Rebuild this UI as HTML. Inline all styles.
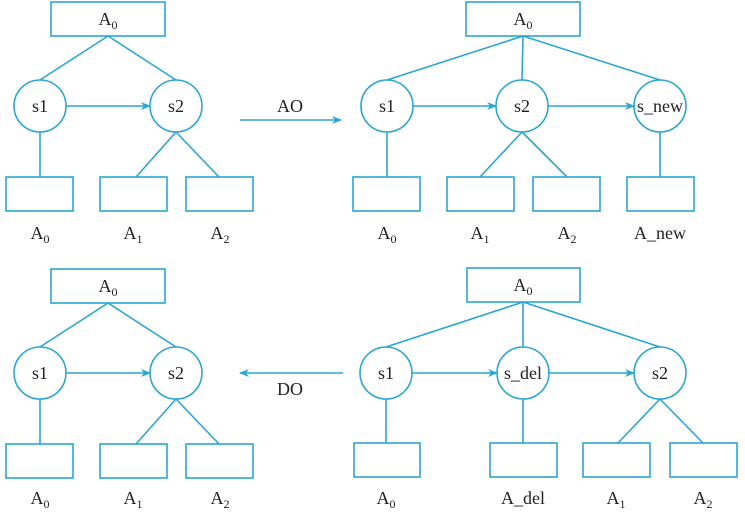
<!DOCTYPE html>
<html><head><style>html,body{margin:0;padding:0;background:#fff}</style></head><body>
<svg width="745" height="508" viewBox="0 0 745 508" xmlns="http://www.w3.org/2000/svg" font-family="Liberation Serif, serif" font-size="18" fill="#222">
<defs><marker id="ar" markerWidth="10" markerHeight="8" refX="9" refY="4" orient="auto" markerUnits="userSpaceOnUse"><path d="M0,0 L10,4 L0,8 L3,4 z" fill="#2aa6d2"/></marker></defs>
<g stroke="#2aa6d2" stroke-width="1.6" fill="none">
<!-- top-left -->
<rect x="51" y="2" width="114" height="34"/>
<line x1="108" y1="36" x2="40" y2="80"/><line x1="108" y1="36" x2="176" y2="80"/>
<circle cx="40" cy="106" r="26"/><circle cx="176" cy="106" r="26"/>
<line x1="66" y1="106" x2="150" y2="106" marker-end="url(#ar)"/>
<line x1="40" y1="132" x2="40" y2="177"/>
<line x1="176" y1="132" x2="136" y2="177"/><line x1="176" y1="132" x2="219" y2="177"/>
<rect x="6" y="177" width="67" height="34"/><rect x="100" y="177" width="67" height="34"/><rect x="186" y="177" width="67" height="34"/>
<line x1="240" y1="120" x2="341" y2="120" marker-end="url(#ar)"/>
<!-- top-right -->
<rect x="466" y="2" width="114" height="34"/>
<line x1="523" y1="36" x2="387" y2="80"/><line x1="523" y1="36" x2="522" y2="80"/><line x1="523" y1="36" x2="660" y2="80"/>
<circle cx="387" cy="106" r="26"/><circle cx="522" cy="106" r="26"/><circle cx="660" cy="106" r="26"/>
<line x1="413" y1="106" x2="496" y2="106" marker-end="url(#ar)"/>
<line x1="548" y1="106" x2="634" y2="106" marker-end="url(#ar)"/>
<line x1="387" y1="132" x2="387" y2="177"/>
<line x1="522" y1="132" x2="480" y2="177"/><line x1="522" y1="132" x2="567" y2="177"/>
<line x1="660" y1="132" x2="660" y2="177"/>
<rect x="353" y="177" width="67" height="34"/><rect x="447" y="177" width="67" height="34"/><rect x="533" y="177" width="67" height="34"/><rect x="627" y="177" width="67" height="34"/>
<!-- bottom-left -->
<rect x="51" y="269" width="114" height="34"/>
<line x1="108" y1="303" x2="40" y2="347"/><line x1="108" y1="303" x2="176" y2="347"/>
<circle cx="40" cy="373" r="26"/><circle cx="176" cy="373" r="26"/>
<line x1="66" y1="373" x2="150" y2="373" marker-end="url(#ar)"/>
<line x1="40" y1="399" x2="40" y2="444"/>
<line x1="176" y1="399" x2="136" y2="444"/><line x1="176" y1="399" x2="219" y2="444"/>
<rect x="6" y="444" width="67" height="34"/><rect x="100" y="444" width="67" height="34"/><rect x="186" y="444" width="67" height="34"/>
<line x1="343" y1="373" x2="240" y2="373" marker-end="url(#ar)"/>
<!-- bottom-right -->
<rect x="467" y="268" width="113" height="34"/>
<line x1="523" y1="302" x2="386" y2="347"/><line x1="523" y1="302" x2="523" y2="347"/><line x1="523" y1="302" x2="660" y2="347"/>
<circle cx="386" cy="373" r="26"/><circle cx="523" cy="373" r="26"/><circle cx="660" cy="373" r="26"/>
<line x1="412" y1="373" x2="497" y2="373" marker-end="url(#ar)"/>
<line x1="549" y1="373" x2="634" y2="373" marker-end="url(#ar)"/>
<line x1="386" y1="399" x2="386" y2="443"/><line x1="523" y1="399" x2="523" y2="443"/>
<line x1="660" y1="399" x2="618" y2="443"/><line x1="660" y1="399" x2="703" y2="443"/>
<rect x="354" y="443" width="66" height="34"/><rect x="490" y="443" width="67" height="34"/><rect x="583" y="443" width="67" height="34"/><rect x="670" y="443" width="67" height="34"/>
</g>
<g text-anchor="middle">
<text x="108" y="25">A<tspan font-size="12" dy="4">0</tspan></text>
<text x="40" y="112">s1</text><text x="176" y="112">s2</text>
<text x="40" y="239">A<tspan font-size="12" dy="4">0</tspan></text>
<text x="133" y="239">A<tspan font-size="12" dy="4">1</tspan></text>
<text x="220" y="239">A<tspan font-size="12" dy="4">2</tspan></text>
<text x="290" y="112">AO</text>
<text x="523" y="25">A<tspan font-size="12" dy="4">0</tspan></text>
<text x="387" y="112">s1</text><text x="522" y="112">s2</text><text x="660" y="112">s_new</text>
<text x="387" y="239">A<tspan font-size="12" dy="4">0</tspan></text>
<text x="480" y="239">A<tspan font-size="12" dy="4">1</tspan></text>
<text x="567" y="239">A<tspan font-size="12" dy="4">2</tspan></text>
<text x="660" y="239">A_new</text>
<text x="108" y="292">A<tspan font-size="12" dy="4">0</tspan></text>
<text x="40" y="379">s1</text><text x="176" y="379">s2</text>
<text x="40" y="504">A<tspan font-size="12" dy="4">0</tspan></text>
<text x="133" y="504">A<tspan font-size="12" dy="4">1</tspan></text>
<text x="220" y="504">A<tspan font-size="12" dy="4">2</tspan></text>
<text x="290" y="395">DO</text>
<text x="523" y="291">A<tspan font-size="12" dy="4">0</tspan></text>
<text x="386" y="379">s1</text><text x="523" y="379">s_del</text><text x="660" y="379">s2</text>
<text x="386" y="504">A<tspan font-size="12" dy="4">0</tspan></text>
<text x="523" y="504">A_del</text>
<text x="616" y="504">A<tspan font-size="12" dy="4">1</tspan></text>
<text x="703" y="504">A<tspan font-size="12" dy="4">2</tspan></text>
</g>
</svg>
</body></html>
